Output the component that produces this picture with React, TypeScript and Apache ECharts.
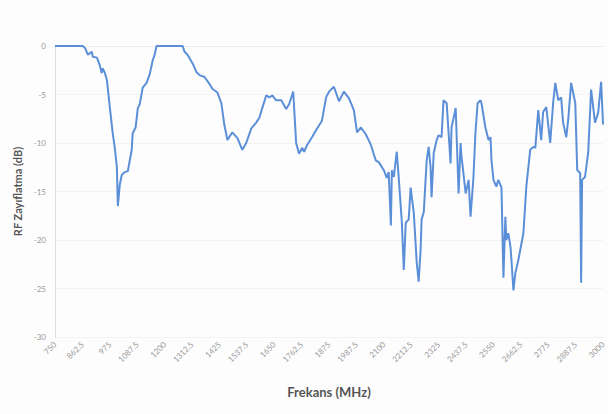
import React, { useEffect, useRef } from "react";
import * as echarts from "echarts";

// Frequency (MHz) of each sampled point
const frequencies: number[] = [
  750, 864, 873, 885, 901, 905, 922, 934, 942, 946, 955, 963, 975, 987, 995, 1004, 1008, 1016, 1024, 1036,
  1049, 1065, 1069, 1081, 1090, 1098, 1110, 1126, 1139, 1151, 1159, 1167, 1274, 1282, 1294, 1315, 1331, 1343, 1364, 1384,
  1396, 1417, 1433, 1445, 1458, 1478, 1499, 1519, 1535, 1556, 1576, 1589, 1601, 1617, 1630, 1642, 1658, 1679, 1699, 1711,
  1728, 1740, 1752, 1765, 1773, 1785, 1805, 1826, 1846, 1863, 1875, 1895, 1916, 1936, 1957, 1977, 1990, 2006, 2026, 2047,
  2067, 2080, 2100, 2112, 2120, 2129, 2133, 2141, 2153, 2161, 2174, 2182, 2190, 2202, 2210, 2223, 2235, 2243, 2251, 2255,
  2264, 2276, 2284, 2292, 2296, 2305, 2317, 2325, 2337, 2345, 2358, 2374, 2378, 2395, 2407, 2415, 2419, 2436, 2448, 2456,
  2468, 2476, 2485, 2497, 2501, 2517, 2530, 2538, 2542, 2550, 2562, 2570, 2583, 2591, 2599, 2603, 2611, 2620, 2624, 2632,
  2640, 2652, 2673, 2685, 2701, 2714, 2722, 2734, 2746, 2754, 2767, 2783, 2795, 2804, 2816, 2828, 2836, 2849, 2857, 2869,
  2886, 2894, 2906, 2910, 2914, 2926, 2939, 2951, 2967, 2980, 2992, 3000,
];

// RF attenuation (dB) at each frequency
const attenuation: number[] = [
  0, 0, -0.2, -0.9, -0.6, -1.1, -1.2, -2.0, -2.8, -2.3, -2.8, -3.5, -6.3, -9.0, -10.4, -12.5, -16.5, -14.3, -13.3, -13.0,
  -12.9, -10.7, -9.0, -8.4, -6.4, -6.0, -4.3, -3.8, -2.9, -1.5, -0.9, 0, 0, -0.6, -0.9, -1.8, -2.7, -3.0, -3.2, -3.9,
  -4.4, -4.8, -5.9, -8.1, -9.7, -8.9, -9.5, -10.7, -10.0, -8.5, -7.9, -7.4, -6.4, -5.1, -5.3, -5.1, -5.6, -5.6, -6.5, -6.0,
  -4.7, -10.0, -11.1, -10.5, -10.9, -10.2, -9.4, -8.5, -7.7, -5.3, -4.7, -4.2, -5.7, -4.7, -5.4, -6.6, -8.9, -8.4, -9.1, -10.2,
  -11.8, -12.0, -12.8, -13.6, -13.0, -18.5, -12.8, -13.5, -10.9, -13.5, -18.2, -23.1, -18.2, -17.9, -14.6, -17.2, -22.3, -24.3, -21.0, -17.9,
  -17.1, -11.8, -10.4, -12.5, -15.6, -11.0, -9.7, -9.2, -9.4, -5.6, -5.9, -12.1, -8.4, -6.4, -15.2, -10.0, -11.4, -15.2, -13.8, -17.6,
  -13.5, -9.0, -5.9, -5.6, -5.9, -8.4, -9.7, -9.4, -11.8, -13.8, -14.5, -13.8, -14.6, -23.9, -17.6, -20.0, -19.3, -20.7, -22.1, -25.2,
  -23.4, -22.1, -19.3, -14.5, -10.7, -10.4, -10.5, -6.6, -9.7, -6.8, -6.3, -10.0, -5.9, -3.8, -5.6, -5.3, -7.9, -9.4, -7.6, -3.8,
  -5.9, -12.8, -13.1, -24.4, -13.8, -13.5, -11.0, -4.5, -7.9, -6.9, -3.7, -8.1,
];

const xMin = 750;
const xMax = 3000;
const xStep = 112.5;
const yMin = -30;
const yMax = 0;
const yStep = 5;

export default function App() {
  const ref = useRef<HTMLDivElement>(null);

  useEffect(() => {
    if (!ref.current) return;
    const chart = echarts.init(ref.current, null, { renderer: "svg" });
    const data = frequencies.map((f, i) => [f, attenuation[i]]);
    chart.setOption({
      animation: false,
      backgroundColor: "#fdfdfd",
      grid: { left: 55, right: 3, top: 46, bottom: 77 },
      xAxis: {
        type: "value",
        min: xMin,
        max: xMax,
        interval: xStep,
        name: "Frekans (MHz)",
        nameLocation: "middle",
        nameGap: 48,
        nameTextStyle: {
          fontFamily: "Lato",
          fontWeight: "bold",
          fontSize: 13,
          color: "#555555",
        },
        axisLine: { show: true, lineStyle: { color: "#ececec", width: 1 } },
        axisTick: { show: false },
        splitLine: { show: false },
        axisLabel: {
          rotate: 45,
          margin: 6,
          fontSize: 8,
          fontFamily: "Lato",
          color: "#9a9a9a",
          showMaxLabel: true,
          showMinLabel: true,
          hideOverlap: false,
          formatter: (v: number) => String(v),
        },
      },
      yAxis: {
        type: "value",
        min: yMin,
        max: yMax,
        interval: yStep,
        name: "RF Zayıflatma (dB)",
        nameLocation: "middle",
        nameGap: 31,
        nameTextStyle: {
          fontFamily: "Lato",
          fontWeight: "bold",
          fontSize: 11,
          color: "#555555",
        },
        axisLine: { show: true, lineStyle: { color: "#dcdcdc", width: 1 } },
        axisTick: { show: false },
        splitLine: { show: true, lineStyle: { color: "#f3f3f3", width: 1 } },
        axisLabel: {
          margin: 9,
          fontSize: 8,
          fontFamily: "Lato",
          color: "#9a9a9a",
          formatter: (v: number) => String(v),
        },
      },
      series: [
        {
          type: "line",
          data,
          showSymbol: false,
          symbol: "none",
          lineStyle: { color: "#5b8fd8", width: 2 },
        },
      ],
    });
    return () => chart.dispose();
  }, []);

  return <div ref={ref} style={{ width: 608, height: 414, position: "absolute", left: 0, top: 0 }} />;
}
